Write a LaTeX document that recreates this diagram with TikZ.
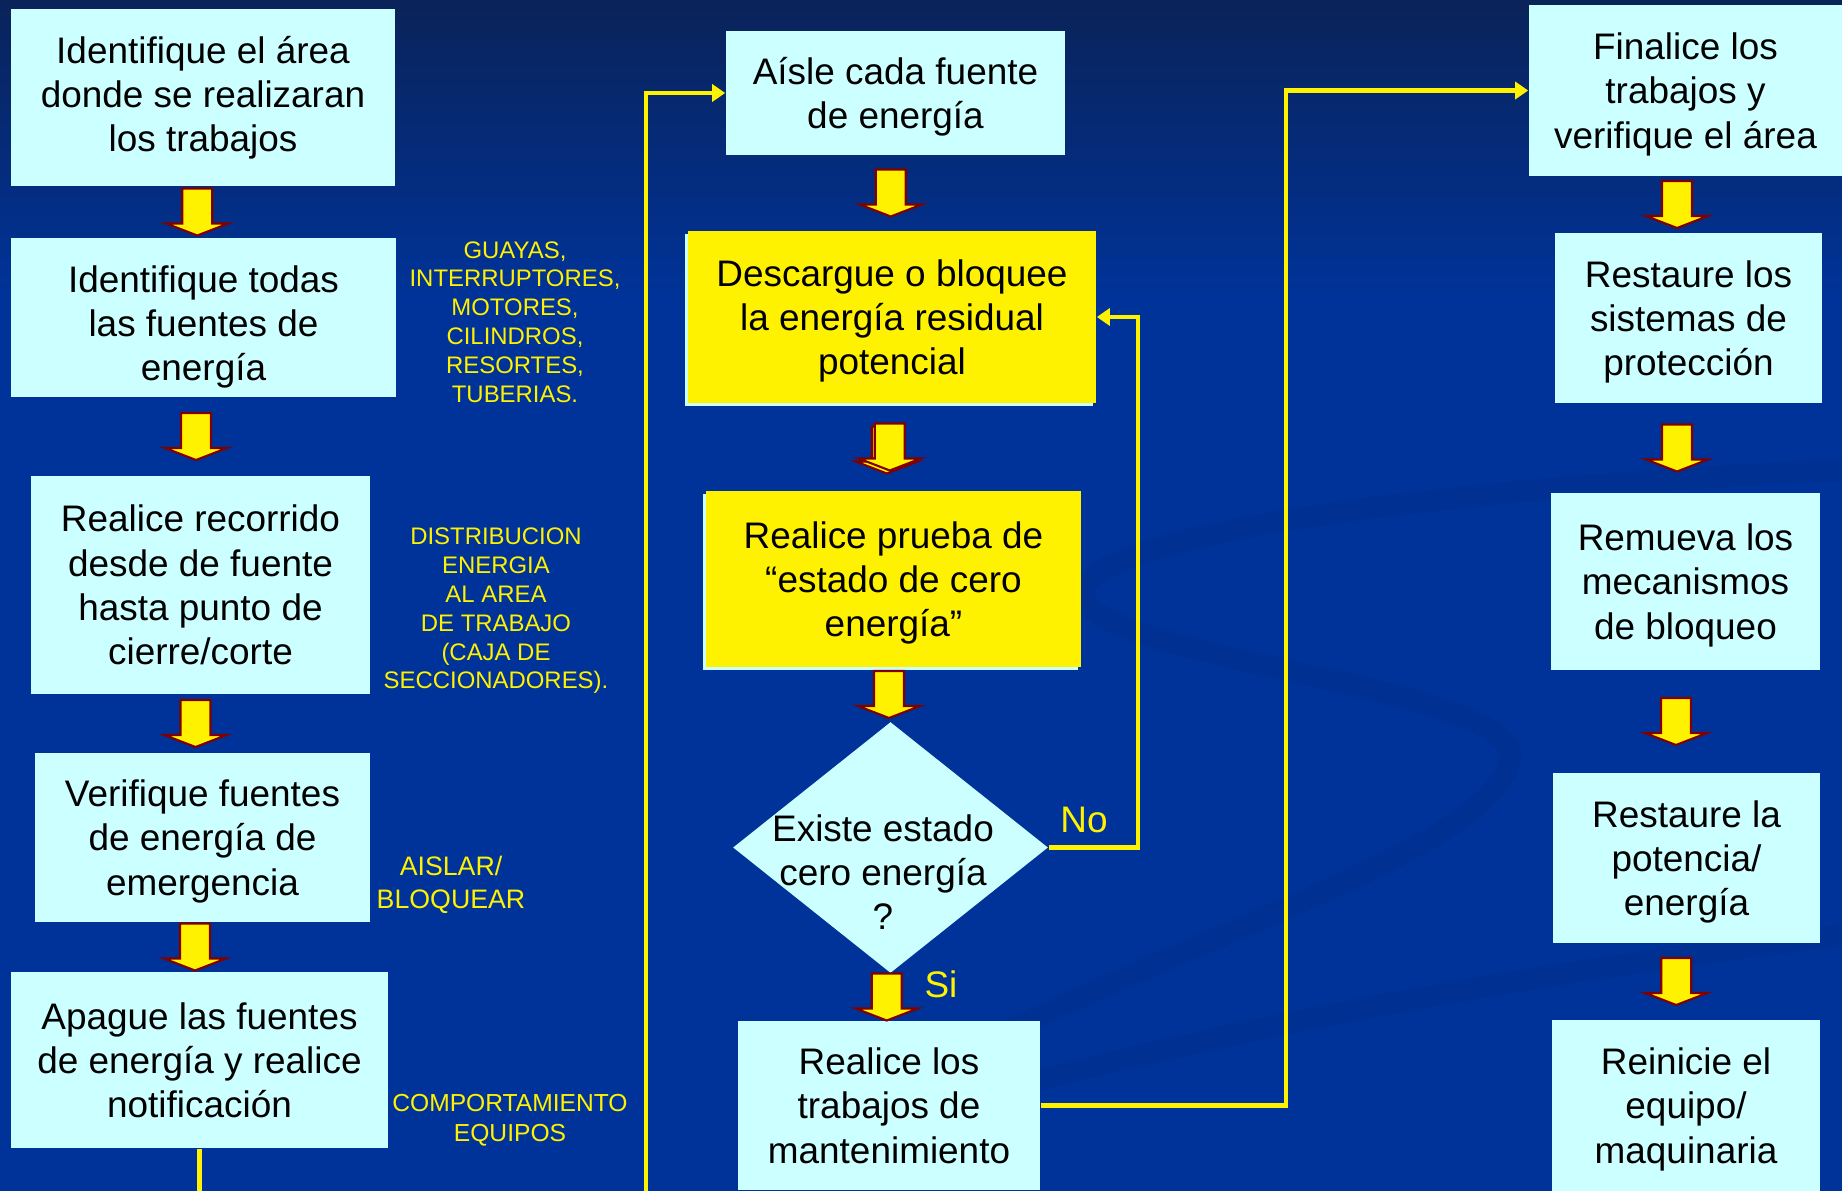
\documentclass[tikz,border=0pt]{standalone}
\usepackage{fontspec}
\setmainfont{Liberation Sans}
\usetikzlibrary{arrows.meta,calc,shapes.geometric,shadows}
\definecolor{slidebg}{HTML}{003399}
\definecolor{slidetop}{HTML}{0A2359}
\definecolor{swirlblue}{HTML}{003192}
\definecolor{boxcyan}{HTML}{CCFFFF}
\definecolor{arrowred}{HTML}{800000}
\tikzset{
  blockdown/.pic={
    \draw[arrowred, line width=0.6pt, fill=yellow, line join=miter]
      (-15,-23.5) -- (15,-23.5) -- (15,11.5) -- (31,11.5) -- (0,23.5)
      -- (-31,11.5) -- (-15,11.5) -- cycle;
  }
}
\begin{document}
\begin{tikzpicture}[x=0.01cm, y=-0.01cm,
  stepbox/.style={fill=boxcyan, inner sep=0pt, align=center, text depth=0pt,
  font=\fontsize{10.5}{12.6}\selectfont},
  testbox/.style={stepbox, fill=yellow,
  general shadow={fill=boxcyan, shadow xshift=-0.8pt, shadow yshift=-0.8pt}},
  decision/.style={diamond, fill=boxcyan, inner sep=0pt,
  minimum width=3.15cm, minimum height=2.51cm},
  note/.style={text=yellow, align=center, font=\fontsize{6.8}{8.2}\selectfont},
  answer/.style={text=yellow, font=\fontsize{10.5}{12.6}\selectfont},
  swirl/.style={swirlblue, line width=0.22cm, line cap=round},
  conn/.style={yellow, line width=1.3pt, -{Triangle[length=0.13cm,width=0.17cm]}}]
\useasboundingbox (0,0) rectangle (1842,1191);
\clip (0,0) rectangle (1842,1191);

% background
\fill[slidebg] (0,0) rectangle (1842,1191);
\shade[top color=slidetop, bottom color=slidebg] (0,0) rectangle (1842,300);
\draw[swirl] (1842,470) .. controls (1400,490) and (1060,540) .. (1085,600)
  .. controls (1110,660) and (1530,690) .. (1510,760)
  .. controls (1490,850) and (1200,930) .. (950,1060);
\draw[swirl] (960,1100) .. controls (1300,1010) and (1600,965) .. (1842,935);

% left column
\node[stepbox, minimum width=3.84cm, minimum height=1.77cm, text depth=2pt] (area) at (203,97.5)
  {Identifique el área\\donde se realizaran\\los trabajos};
\node[stepbox, minimum width=3.85cm, minimum height=1.59cm, text height=36pt] (fuentes) at (203.5,317.5)
  {Identifique todas\\las fuentes de\\energía};
\node[stepbox, minimum width=3.39cm, minimum height=2.18cm] (recorrido) at (200.5,585)
  {Realice recorrido\\desde de fuente\\hasta punto de\\cierre/corte};
\node[stepbox, minimum width=3.35cm, minimum height=1.69cm] (emergencia) at (202.5,837.5)
  {Verifique fuentes\\de energía de\\emergencia};
\node[stepbox, minimum width=3.77cm, minimum height=1.76cm] (apague) at (199.5,1060)
  {Apague las fuentes\\de energía y realice\\notificación};

% middle column
\node[stepbox, minimum width=3.39cm, minimum height=1.24cm] (aisle) at (895.5,93)
  {Aísle cada fuente\\de energía};
\node[testbox, minimum width=4.08cm, minimum height=1.72cm] (descargue) at (892,317)
  {Descargue o bloquee\\la energía residual\\potencial};
\node[testbox, minimum width=3.75cm, minimum height=1.76cm] (prueba) at (893.5,579)
  {Realice prueba de\\“estado de cero\\energía”};
\node[decision] (decision) at (890.5,847.5) {};
\node[align=center, font=\fontsize{10.5}{12.6}\selectfont] (pregunta) at (883,872)
  {Existe estado\\cero energía\\?};
\node[stepbox, minimum width=3.02cm, minimum height=1.69cm] (trabajos) at (889,1105.5)
  {Realice los\\trabajos de\\mantenimiento};

% right column
\node[stepbox, minimum width=3.13cm, minimum height=1.71cm] (finalice) at (1685.5,90.5)
  {Finalice los\\trabajos y\\verifique el área};
\node[stepbox, minimum width=2.67cm, minimum height=1.70cm] (proteccion) at (1688.5,318)
  {Restaure los\\sistemas de\\protección};
\node[stepbox, minimum width=2.69cm, minimum height=1.77cm] (remueva) at (1685.5,581.5)
  {Remueva los\\mecanismos\\de bloqueo};
\node[stepbox, minimum width=2.67cm, minimum height=1.70cm] (potencia) at (1686.5,858)
  {Restaure la\\potencia/\\energía};
\node[stepbox, minimum width=2.68cm, minimum height=1.71cm] (reinicie) at (1686,1105.5)
  {Reinicie el\\equipo/\\maquinaria};

% notes
\node[note] (tipos) at (515,322)
  {GUAYAS,\\INTERRUPTORES,\\MOTORES,\\CILINDROS,\\RESORTES,\\TUBERIAS.};
\node[note] (distribucion) at (496,611)
  {DISTRIBUCION\\ENERGIA\\AL AREA\\DE TRABAJO\\(CAJA DE\\SECCIONADORES).};
\node[note, font=\fontsize{7.6}{9.2}\selectfont] (aislar) at (451,885) {AISLAR/\\BLOQUEAR};
\node[note, font=\fontsize{7}{8.4}\selectfont] (comportamiento) at (510,1120) {COMPORTAMIENTO\\EQUIPOS};
\node[answer] (no) at (1084,820) {No};
\node[answer] (si) at (941,984) {Si};

% block arrows
\pic at ($(area.south)!0.5!(fuentes.north)+(-6,0)$) {blockdown};
\pic at ($(fuentes.south)!0.5!(recorrido.north)+(-6,0)$) {blockdown};
\pic at ($(recorrido.south)!0.5!(emergencia.north)+(-6,0)$) {blockdown};
\pic at ($(emergencia.south)!0.5!(apague.north)+(-6,0)$) {blockdown};
\pic at ($(aisle.south)!0.5!(descargue.north)+(-3,0)$) {blockdown};
\pic at ($(descargue.south)!0.5!(prueba.north)+(-6,3)$) {blockdown};
\pic at ($(descargue.south)!0.5!(prueba.north)+(-3,0)$) {blockdown};
\pic at ($(prueba.south)!0.5!(decision.north)+(-3,0)$) {blockdown};
\pic at ($(decision.south)!0.5!(trabajos.north)+(-3,0)$) {blockdown};
\pic at ($(finalice.south)!0.5!(proteccion.north)+(-10,0)$) {blockdown};
\pic at ($(proteccion.south)!0.5!(remueva.north)+(-10,0)$) {blockdown};
\pic at ($(remueva.south)!0.5!(potencia.north)+(-10,0)$) {blockdown};
\pic at ($(potencia.south)!0.5!(reinicie.north)+(-10,0)$) {blockdown};

% connectors
\coordinate (loopline) at (646,1250);
\coordinate (noturn) at (1138,0);
\coordinate (riseline) at (1286,0);
\draw[conn] (apague.south) |- (loopline) |- (aisle.west);
\draw[conn] (decision.east) -| (noturn |- descargue.east) -- (descargue.east);
\draw[conn] (trabajos.east) -| (riseline |- finalice.west) -- (finalice.west);
\end{tikzpicture}
\end{document}
